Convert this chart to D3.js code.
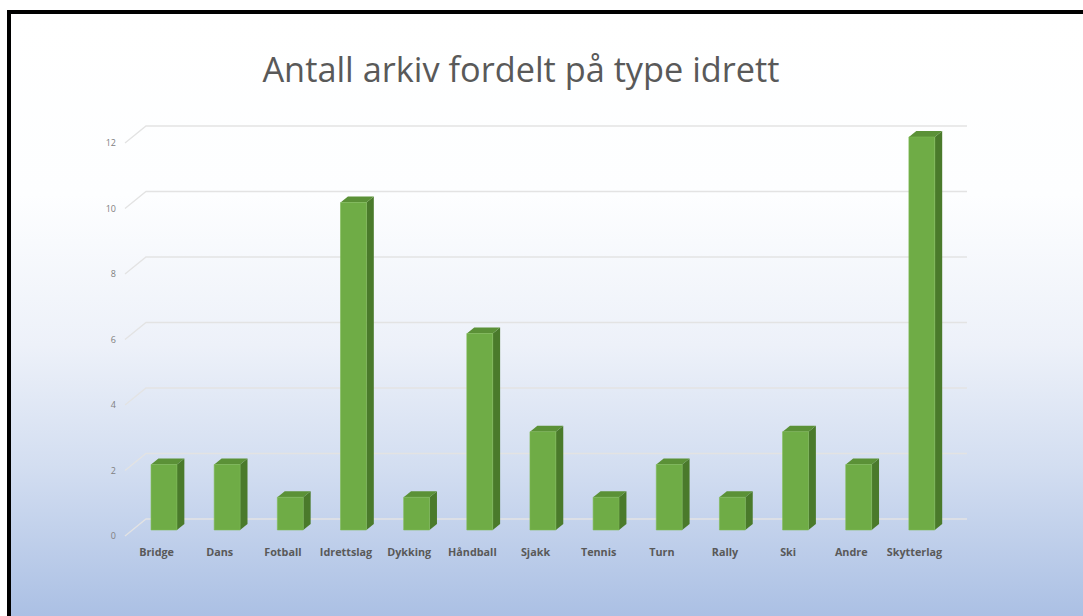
<!DOCTYPE html>
<html><head><meta charset="utf-8">
<script src="https://cdn.jsdelivr.net/npm/d3@7"></script>
<style>body{margin:0;background:#fff}svg{display:block}</style>
</head><body>
<script>
const categories = ["Bridge","Dans","Fotball","Idrettslag","Dykking","Håndball","Sjakk","Tennis","Turn","Rally","Ski","Andre","Skytterlag"];
const values = [2,2,1,10,1,6,3,1,2,1,3,2,12];
const yTicks = [0,2,4,6,8,10,12];
const title = "Antall arkiv fordelt på type idrett";

const W = 1083, H = 616;
const svg = d3.select("body").append("svg").attr("width", W).attr("height", H);
const defs = svg.append("defs");
const g = defs.append("linearGradient").attr("id","bg").attr("x1",0).attr("y1",0).attr("x2",0).attr("y2",1);
[[0,"#ffffff"],[0.3,"#fdfeff"],[0.55,"#edf1f9"],[0.75,"#d3def1"],[1,"#abc0e4"]].forEach(([o,c])=>g.append("stop").attr("offset",o).attr("stop-color",c));

svg.append("rect").attr("x",11).attr("y",14).attr("width",W-11).attr("height",H-14).attr("fill","url(#bg)");
svg.append("rect").attr("x",7).attr("y",10).attr("width",W-7).attr("height",4).attr("fill","#000");
svg.append("rect").attr("x",7).attr("y",10).attr("width",4).attr("height",H-10).attr("fill","#000");

svg.append("text").attr("x",521).attr("y",82).attr("text-anchor","middle")
  .attr("font-family","'Open Sans', sans-serif").attr("font-size",34.3).attr("fill","#595959")
  .text(title);

// 3D projection: back wall scales, depth offset
const x = d3.scaleBand().domain(categories).range([146,967]).paddingInner(0).paddingOuter(0);
const y = d3.scaleLinear().domain([0,12]).range([519,126]);
const DX = -21, DY = 17;
const P = (px, v, d) => [px + DX*d, y(v) + DY*d];

const grid = svg.append("g").attr("stroke","#e3e3e3").attr("stroke-width",1.3).attr("fill","none");
yTicks.forEach(t=>{
  const a = P(146,t,1), b = P(146,t,0), c = P(967,t,0);
  grid.append("path").attr("d",`M${a[0]},${a[1]}L${b[0]},${b[1]}L${c[0]},${c[1]}`);
});

svg.append("g").selectAll("text").data(yTicks).join("text")
  .attr("x",116).attr("y",t=>P(146,t,1)[1]).attr("dy","0.35em").attr("text-anchor","end")
  .attr("font-family","'Open Sans', sans-serif").attr("font-size",9).attr("fill","#7f7f7f")
  .text(d=>d);

const barW = x.bandwidth()*0.41;
const dB = 0.294, dF = 0.647;
const bars = svg.append("g");
categories.forEach((c,i)=>{
  const v = values[i];
  const x0 = x(c) + (x.bandwidth()-barW)/2;
  const x1 = x0 + barW;
  const fTL = P(x0,v,dF), fTR = P(x1,v,dF), fBR = P(x1,0,dF), fBL = P(x0,0,dF);
  const bTL = P(x0,v,dB), bTR = P(x1,v,dB), bBR = P(x1,0,dB);
  const poly = pts => "M" + pts.map(p=>p.join(",")).join("L") + "Z";
  bars.append("path").attr("d",poly([fTR,bTR,bBR,fBR])).attr("fill","#4a7a2b");
  bars.append("path").attr("d",poly([fTL,bTL,bTR,fTR])).attr("fill","#5b9137");
  bars.append("path").attr("d",poly([fTL,fTR,fBR,fBL])).attr("fill","#6fac46").attr("stroke","#7dba54").attr("stroke-width",0.6);
});

svg.append("g").selectAll("text").data(categories).join("text")
  .attr("x",c=>P(x(c)+x.bandwidth()/2,0,1)[0]).attr("y",556).attr("text-anchor","middle")
  .attr("font-family","'Open Sans', sans-serif").attr("font-weight",700).attr("font-size",10.8).attr("fill","#595959")
  .text(d=>d);
</script>
</body></html>
